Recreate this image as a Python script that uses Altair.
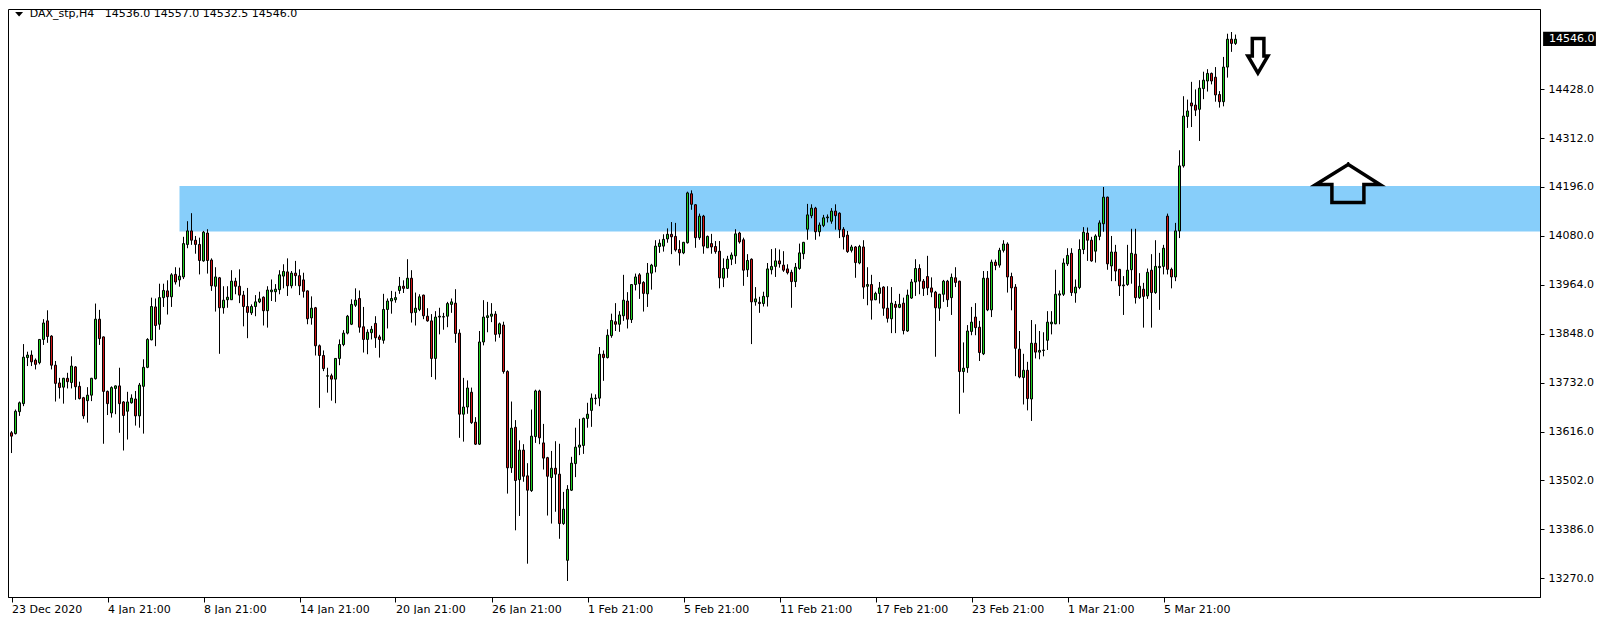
import altair as alt
import pandas as pd

# ---------------- data ----------------
OPEN = [
    13614, 13612, 13664, 13683, 13792, 13798, 13786, 13780, 13835, 13879,
    13843, 13774, 13732, 13722, 13743, 13733, 13770, 13724, 13697, 13690,
    13703, 13742, 13883, 13841, 13712, 13661, 13719, 13725, 13687, 13665,
    13685, 13694, 13654, 13724, 13769, 13834, 13912, 13871, 13934, 13950,
    13936, 13989, 13976, 13983, 14060, 14092, 14070, 14060, 14021, 14087,
    14023, 13961, 13981, 13910, 13929, 13929, 13973, 13961, 13940, 13913,
    13898, 13913, 13924, 13935, 13903, 13948, 13948, 13953, 13985, 13995,
    13962, 13992, 13986, 13976, 13950, 13886, 13910, 13820, 13797, 13748,
    13749, 13741, 13790, 13823, 13850, 13871, 13916, 13932, 13865, 13835,
    13851, 13873, 13841, 13833, 13906, 13926, 13929, 13951, 13961, 13956,
    13980, 13899, 13906, 13940, 13890, 13879, 13790, 13888, 13888, 13890,
    13918, 13921, 13850, 13658, 13675, 13710, 13639, 13587, 13829, 13887,
    13890, 13895, 13848, 13869, 13759, 13531, 13627, 13503, 13573, 13512,
    13477, 13605, 13713, 13590, 13555, 13508, 13530, 13516, 13399, 13312,
    13478, 13541, 13580, 13584, 13648, 13667, 13695, 13696, 13800, 13792,
    13844, 13877, 13871, 13891, 13926, 13882, 13965, 13988, 13970, 13943,
    13992, 14008, 14055, 14056, 14073, 14084, 14079, 14048, 14040, 14064,
    14180, 14154, 14076, 14127, 14052, 14062, 14055, 14044, 13980, 14003,
    14025, 14033, 14087, 14071, 14000, 14025, 13924, 13923, 13920, 13936,
    14000, 14008, 14021, 14011, 14002, 13994, 13972, 14003, 14038, 14096,
    14128, 14146, 14090, 14105, 14123, 14115, 14139, 14134, 14096, 14082,
    14046, 14054, 14016, 14054, 13961, 13965, 13929, 13944, 13959, 13909,
    13884, 13918, 13911, 13921, 13855, 13933, 13971, 14003, 13973, 13984,
    13957, 13947, 13909, 13942, 13973, 13934, 13981, 13973, 13759, 13768,
    13854, 13888, 13864, 13801, 13980, 13905, 14018, 14011, 14046, 14061,
    13984, 13959, 13812, 13745, 13762, 13694, 13826, 13805, 13809, 13833,
    13872, 13872, 13940, 13942, 14014, 14039, 13945, 13958, 14048, 14087,
    14070, 14044, 14079, 14109, 14172, 14009, 14042, 14001, 13962, 13965,
    14000, 14037, 13934, 13954, 13938, 13999, 13946, 14005, 14008, 14127,
    14001, 13983, 14092, 14246, 14363, 14395, 14390, 14380, 14429, 14447,
    14465, 14456, 14415, 14398, 14480, 14546, 14536.0,
]
HIGH = [
    13618, 13669, 13688, 13824, 13806, 13809, 13790, 13836, 13883, 13904,
    13845, 13784, 13744, 13744, 13756, 13795, 13772, 13735, 13699, 13722,
    13744, 13920, 13905, 13842, 13714, 13724, 13726, 13768, 13689, 13711,
    13705, 13713, 13732, 13788, 13838, 13934, 13932, 13967, 13967, 13975,
    13992, 14006, 14005, 14078, 14115, 14134, 14080, 14076, 14092, 14096,
    14027, 14006, 13983, 13961, 13961, 13999, 13981, 14001, 13950, 13957,
    13918, 13940, 13948, 13937, 13961, 13977, 13966, 13999, 14013, 14027,
    13997, 14021, 14001, 13993, 13951, 13937, 13912, 13823, 13809, 13768,
    13754, 13791, 13835, 13857, 13893, 13930, 13956, 13951, 13912, 13859,
    13867, 13890, 13846, 13943, 13932, 13950, 13948, 13983, 13975, 14025,
    13999, 13946, 13942, 13941, 13909, 13895, 13902, 13910, 13898, 13924,
    13932, 13954, 13859, 13744, 13738, 13721, 13651, 13855, 13928, 13924,
    13921, 13902, 13875, 13877, 13762, 13688, 13644, 13596, 13587, 13542,
    13669, 13716, 13716, 13635, 13557, 13571, 13594, 13588, 13474, 13490,
    13557, 13626, 13647, 13650, 13685, 13707, 13705, 13817, 13809, 13859,
    13896, 13921, 13902, 13988, 13947, 13966, 13991, 13992, 13973, 14016,
    14014, 14070, 14072, 14084, 14098, 14113, 14111, 14070, 14066, 14185,
    14188, 14155, 14133, 14130, 14081, 14085, 14068, 14068, 14027, 14033,
    14041, 14096, 14090, 14076, 14037, 14027, 13959, 13936, 13948, 14016,
    14049, 14051, 14048, 14044, 14013, 14000, 14016, 14062, 14066, 14156,
    14155, 14149, 14112, 14130, 14131, 14146, 14155, 14136, 14101, 14092,
    14059, 14056, 14059, 14070, 14006, 13988, 13948, 13971, 13961, 13961,
    13959, 13926, 13943, 13934, 13953, 13978, 14025, 14013, 13978, 14033,
    13982, 13950, 13943, 13976, 13976, 13991, 14006, 13974, 13828, 13869,
    13912, 13921, 13879, 13997, 13997, 14024, 14024, 14052, 14070, 14065,
    13993, 13966, 13855, 13801, 13782, 13881, 13871, 13855, 13852, 13902,
    13902, 14000, 13951, 14027, 14051, 14051, 13977, 14072, 14101, 14100,
    14078, 14084, 14117, 14196, 14173, 14080, 14059, 14002, 13985, 14059,
    14097, 14097, 13992, 13969, 14003, 14037, 14070, 14040, 14059, 14133,
    14005, 14111, 14283, 14411, 14403, 14445, 14427, 14449, 14469, 14475,
    14467, 14480, 14423, 14504, 14559, 14563, 14557.0,
]
LOW = [
    13566, 13610, 13654, 13677, 13772, 13772, 13764, 13776, 13822, 13827,
    13764, 13688, 13695, 13683, 13719, 13719, 13692, 13693, 13647, 13638,
    13689, 13740, 13822, 13588, 13656, 13650, 13658, 13614, 13572, 13598,
    13683, 13631, 13626, 13612, 13767, 13833, 13819, 13858, 13912, 13894,
    13912, 13965, 13960, 13978, 14051, 14059, 14038, 13989, 14019, 13991,
    13950, 13901, 13801, 13896, 13910, 13929, 13942, 13921, 13866, 13838,
    13893, 13890, 13921, 13868, 13863, 13926, 13924, 13942, 13956, 13938,
    13956, 13962, 13940, 13934, 13871, 13870, 13797, 13673, 13760, 13709,
    13690, 13684, 13774, 13819, 13847, 13869, 13912, 13851, 13804, 13800,
    13835, 13815, 13792, 13825, 13861, 13896, 13922, 13943, 13945, 13955,
    13875, 13868, 13902, 13883, 13877, 13746, 13740, 13847, 13858, 13864,
    13898, 13827, 13602, 13593, 13659, 13635, 13585, 13585, 13821, 13852,
    13876, 13830, 13839, 13754, 13470, 13519, 13383, 13417, 13498, 13304,
    13474, 13590, 13587, 13527, 13418, 13399, 13427, 13363, 13396, 13263,
    13476, 13509, 13561, 13564, 13626, 13628, 13681, 13677, 13737, 13790,
    13839, 13855, 13853, 13879, 13861, 13874, 13951, 13931, 13901, 13912,
    13953, 13994, 14040, 14043, 14064, 14037, 14043, 14010, 14037, 14062,
    14142, 14052, 14071, 14038, 14052, 14038, 14038, 13956, 13959, 13981,
    14011, 14014, 14062, 13962, 13983, 13824, 13915, 13898, 13913, 13913,
    13989, 13983, 14005, 13995, 13989, 13910, 13959, 14000, 14025, 14071,
    14122, 14071, 14079, 14101, 14112, 14109, 14095, 14075, 14048, 14040,
    14041, 13981, 14013, 13931, 13916, 13882, 13928, 13920, 13891, 13875,
    13850, 13850, 13909, 13847, 13853, 13931, 13938, 13942, 13938, 13940,
    13935, 13794, 13879, 13924, 13912, 13893, 13959, 13659, 13709, 13756,
    13845, 13845, 13784, 13798, 13902, 13888, 13999, 14005, 14041, 13946,
    13904, 13748, 13743, 13681, 13667, 13642, 13790, 13788, 13795, 13810,
    13847, 13871, 13871, 13938, 14009, 13938, 13922, 13954, 14037, 14021,
    14019, 14017, 14070, 14090, 14000, 13973, 13973, 13938, 13893, 13962,
    13967, 13920, 13931, 13863, 13931, 13863, 13943, 13905, 13989, 13989,
    13956, 13973, 14075, 14242, 14336, 14338, 14364, 14305, 14404, 14422,
    14439, 14398, 14384, 14387, 14455, 14516, 14532.5,
]
CLOSE = [
    13606, 13665, 13685, 13793, 13798, 13782, 13776, 13835, 13874, 13842,
    13774, 13731, 13721, 13743, 13735, 13772, 13723, 13695, 13654, 13703,
    13743, 13883, 13837, 13712, 13683, 13721, 13725, 13683, 13655, 13687,
    13696, 13654, 13727, 13769, 13835, 13913, 13868, 13934, 13951, 13936,
    13988, 13971, 13985, 14062, 14092, 14070, 14060, 14022, 14089, 14022,
    13962, 13983, 13910, 13928, 13935, 13973, 13961, 13940, 13913, 13899,
    13913, 13924, 13931, 13903, 13952, 13952, 13954, 13988, 13996, 13962,
    13992, 13986, 13962, 13949, 13884, 13909, 13820, 13797, 13766, 13749,
    13741, 13790, 13823, 13850, 13890, 13918, 13928, 13864, 13835, 13852,
    13859, 13839, 13835, 13906, 13926, 13932, 13934, 13961, 13956, 13980,
    13898, 13909, 13936, 13891, 13879, 13790, 13888, 13890, 13889, 13920,
    13924, 13849, 13658, 13675, 13720, 13638, 13587, 13829, 13888, 13891,
    13895, 13847, 13872, 13759, 13531, 13625, 13501, 13573, 13511, 13478,
    13606, 13713, 13602, 13554, 13511, 13530, 13516, 13399, 13433, 13480,
    13542, 13580, 13585, 13648, 13658, 13696, 13696, 13800, 13792, 13845,
    13880, 13871, 13893, 13928, 13883, 13965, 13983, 13967, 13944, 13992,
    14011, 14056, 14063, 14072, 14084, 14078, 14047, 14040, 14065, 14182,
    14155, 14076, 14127, 14056, 14079, 14054, 14043, 13981, 14003, 14025,
    14035, 14085, 14066, 13999, 14022, 13924, 13931, 13920, 13937, 14002,
    14008, 14021, 14014, 13999, 13993, 13972, 14006, 14040, 14065, 14130,
    14146, 14090, 14106, 14123, 14125, 14139, 14128, 14095, 14078, 14043,
    14054, 14017, 14055, 13959, 13965, 13928, 13944, 13957, 13909, 13885,
    13921, 13911, 13918, 13856, 13940, 13971, 14003, 13973, 13956, 13957,
    13947, 13910, 13942, 13973, 13929, 13982, 13970, 13759, 13767, 13855,
    13876, 13863, 13804, 13980, 13905, 14018, 14010, 14046, 14061, 13983,
    13957, 13814, 13746, 13762, 13695, 13826, 13805, 13809, 13810, 13876,
    13876, 13942, 13943, 14016, 14034, 13946, 13959, 14048, 14089, 14070,
    14021, 14080, 14111, 14172, 14014, 14042, 13997, 13962, 13964, 13999,
    14039, 13934, 13961, 13937, 13994, 13946, 14008, 14008, 14051, 14001,
    13983, 14092, 14246, 14364, 14376, 14388, 14378, 14430, 14449, 14465,
    14447, 14414, 14398, 14480, 14546, 14536, 14546.0,
]

X_TICK_BARS = [0, 24, 48, 72, 96, 120, 144, 168, 192, 216, 240, 264, 288]
X_TICK_LABELS = ["23 Dec 2020", "4 Jan 21:00", "8 Jan 21:00", "14 Jan 21:00",
                 "20 Jan 21:00", "26 Jan 21:00", "1 Feb 21:00", "5 Feb 21:00",
                 "11 Feb 21:00", "17 Feb 21:00", "23 Feb 21:00", "1 Mar 21:00",
                 "5 Mar 21:00"]
Y_TICKS = [13270, 13386, 13502, 13616, 13732, 13848, 13964, 14080, 14196, 14312, 14428]

ZONE_BARS = [42.0, 400.0]
ZONE_PRICES = [14090.5, 14198.5]

SYMBOL = "DAX_stp,H4"
LAST_OHLC = [14536.0, 14557.0, 14532.5, 14546.0]
HEADER_BAR = [1.9, 4.55]
HEADER_PRICE = 14605.0

PRICE_BOX_BARS = [382.9, 396.1]
PRICE_BOX_PRICES = [14530.0, 14563.5]
PRICE_TEXT_BAR = 384.4

DOWN_ARROW_BAR = [310.2, 313.1, 313.1, 314.1, 311.6, 309.1, 310.2, 310.2]
DOWN_ARROW_PRICE = [14547.6, 14547.6, 14506.2, 14506.2, 14465.9, 14506.2, 14506.2, 14547.6]
UP_ARROW_BAR = [334.2, 342.1, 338.1, 338.1, 330.1, 330.1, 326.1, 334.2]
UP_ARROW_PRICE = [14249.2, 14201.9, 14201.9, 14159.3, 14159.3, 14201.9, 14201.9, 14249.2]

GREEN = "#1fcf1f"
RED = "#d01515"
ZONE_COLOR = "#87cefa"
FONT = "DejaVu Sans"

# ---------------- frames ----------------
n = len(CLOSE)
df = pd.DataFrame({
    "bar": list(range(n)),
    "open": OPEN, "high": HIGH, "low": LOW, "close": CLOSE,
})
df["x0"] = df["bar"] - 0.25
df["x1"] = df["bar"] + 0.25
df["dir"] = ["up" if c >= o else "down" for o, c in zip(df["open"], df["close"])]

W, H = 1532, 588
xs = alt.Scale(domain=[-0.875, 382.125], nice=False, zero=False)
ys = alt.Scale(domain=[13225.1, 14617.5], nice=False, zero=False)

label_arr = "[" + ",".join("'" + s + "'" for s in X_TICK_LABELS) + "]"
x_axis = alt.Axis(values=X_TICK_BARS, labelExpr=label_arr + "[round(datum.value/24)]",
                  orient="bottom", labelAlign="left", labelBaseline="top",
                  tickSize=5, labelPadding=1, title=None)
y_axis = alt.Axis(values=Y_TICKS, format=".1f", orient="right", tickSize=4,
                  labelPadding=4, title=None)


def X(field):
    return alt.X(field, scale=xs, axis=x_axis)


def Y(field):
    return alt.Y(field, scale=ys, axis=y_axis)


zone_df = pd.DataFrame({"x0": [ZONE_BARS[0]], "x1": [ZONE_BARS[1]],
                        "y0": [ZONE_PRICES[0]], "y1": [ZONE_PRICES[1]]})
zone = alt.Chart(zone_df).mark_rect(color=ZONE_COLOR, clip=True).encode(
    x=X("x0:Q"), x2="x1:Q", y=Y("y0:Q"), y2="y1:Q")

wicks = alt.Chart(df).mark_rule(color="black", strokeWidth=1).encode(
    x=X("bar:Q"), y=Y("low:Q"), y2="high:Q")

bodies = alt.Chart(df).mark_rect(stroke="black", strokeWidth=1).encode(
    x=X("x0:Q"), x2="x1:Q", y=Y("open:Q"), y2="close:Q",
    fill=alt.Fill("dir:N", scale=alt.Scale(domain=["up", "down"], range=[GREEN, RED]),
                  legend=None))

arrows_df = pd.DataFrame({
    "bar": DOWN_ARROW_BAR + UP_ARROW_BAR,
    "price": DOWN_ARROW_PRICE + UP_ARROW_PRICE,
    "shape": ["down"] * len(DOWN_ARROW_BAR) + ["up"] * len(UP_ARROW_BAR),
    "ord": list(range(len(DOWN_ARROW_BAR))) + list(range(len(UP_ARROW_BAR))),
})
arrows = alt.Chart(arrows_df).mark_line(color="black", strokeWidth=3.5,
                                        strokeJoin="miter", strokeCap="square").encode(
    x=X("bar:Q"), y=Y("price:Q"), detail="shape:N", order="ord:Q")

header_text = SYMBOL + "\u00a0\u00a0 " + " ".join(f"{v:.1f}" for v in LAST_OHLC)
head_df = pd.DataFrame({"bar": [HEADER_BAR[1]], "price": [HEADER_PRICE], "t": [header_text]})
header = alt.Chart(head_df).mark_text(align="left", baseline="middle", font=FONT,
                                      fontSize=11, color="black").encode(
    x=X("bar:Q"), y=Y("price:Q"), text="t:N")
tri_df = pd.DataFrame({"bar": [HEADER_BAR[0]], "price": [HEADER_PRICE]})
triangle = alt.Chart(tri_df).mark_point(shape="M-1,-0.55L1,-0.55L0,0.55Z", size=64,
                                        filled=True, color="black", opacity=1).encode(
    x=X("bar:Q"), y=Y("price:Q"))

box_df = pd.DataFrame({"x0": [PRICE_BOX_BARS[0]], "x1": [PRICE_BOX_BARS[1]],
                       "y0": [PRICE_BOX_PRICES[0]], "y1": [PRICE_BOX_PRICES[1]]})
price_box = alt.Chart(box_df).mark_rect(color="black").encode(
    x=X("x0:Q"), x2="x1:Q", y=Y("y0:Q"), y2="y1:Q")
ptxt_df = pd.DataFrame({"bar": [PRICE_TEXT_BAR], "price": [LAST_OHLC[3]],
                        "t": [f"{LAST_OHLC[3]:.1f}"]})
price_text = alt.Chart(ptxt_df).mark_text(align="left", baseline="middle", font=FONT,
                                          fontSize=11, color="white").encode(
    x=X("bar:Q"), y=Y("price:Q"), text="t:N")

chart = alt.layer(zone, wicks, bodies, arrows, header, triangle, price_box, price_text).properties(
    width=W, height=H, padding=0, background="white"
).configure_view(stroke="black", strokeWidth=1).configure_axis(
    grid=False, domainColor="black", tickColor="black", labelColor="black",
    labelFont=FONT, labelFontSize=11, labelOverlap=False, labelFlush=False,
    domainWidth=1, tickWidth=1
)

chart.save("out.html", embed_options={"renderer": "svg", "actions": False})
